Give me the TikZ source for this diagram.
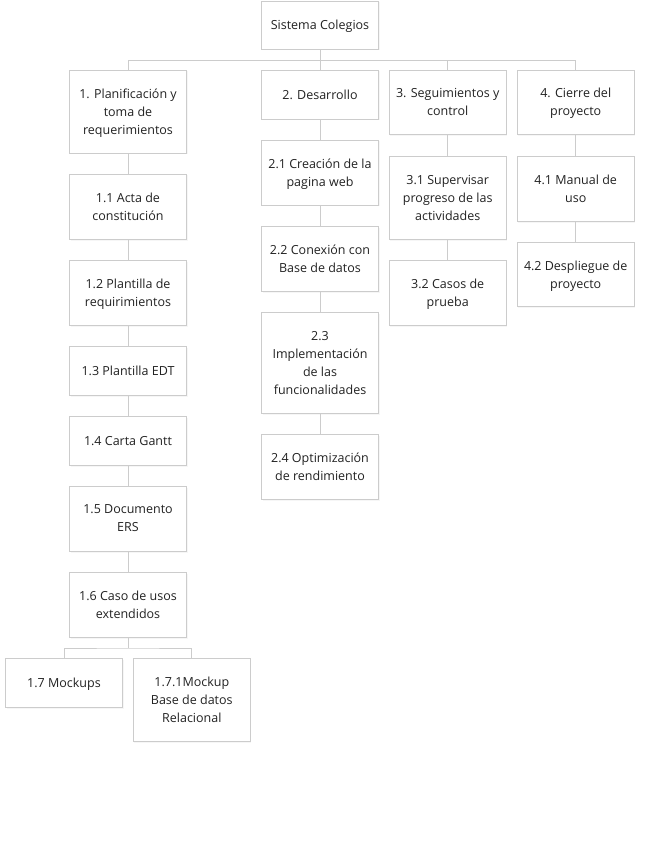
\documentclass[tikz,border=0pt]{standalone}
\usepackage{fontspec}
\setmainfont{Open Sans}
\usetikzlibrary{shadows}
\definecolor{boxline}{HTML}{CCCCCC}
\definecolor{boxtext}{HTML}{222222}
\tikzset{
	wbox/.style={draw=boxline, line width=0.8pt, fill=white, text=boxtext, align=center,
		minimum width=117pt, inner sep=2pt, text depth=0pt,
		font=\fontsize{12.5}{18}\selectfont,
		drop shadow={opacity=0.07, shadow xshift=1pt, shadow yshift=-1.5pt}},
	mbox/.style={wbox, text depth=-1pt},
	link/.style={draw=boxline, line width=0.8pt}
}
\begin{document}
\begin{tikzpicture}[x=1pt,y=-1pt]
\useasboundingbox (0,0) rectangle (645,842);

\node[wbox, minimum height=48pt] (root) at (320,25) {Sistema Colegios};

\foreach \n/\y/\h/\s/\txt in {p1/111.5/83/mbox/{1. Planificación y\\toma de\\requerimientos},
	p11/206.5/65/mbox/{1.1 Acta de\\constitución},
	p12/293/65/mbox/{1.2 Plantilla de\\requirimientos},
	p13/371/49/wbox/{1.3 Plantilla EDT},
	p14/441/49/wbox/{1.4 Carta Gantt},
	p15/518.5/65/mbox/{1.5 Documento\\ERS},
	p16/604.5/65/mbox/{1.6 Caso de usos\\extendidos}}
{
	\node[\s, minimum height=\h pt] (\n) at (128,\y) {\txt};
}

\foreach \n/\y/\h/\s/\txt in {d2/94.5/49/wbox/{2. Desarrollo},
	d21/172.5/65/mbox/{2.1 Creación de la\\pagina web},
	d22/258.5/65/mbox/{2.2 Conexión con\\Base de datos},
	d23/362.75/101/mbox/{2.3\\Implementación\\de las\\funcionalidades},
	d24/466.75/65/mbox/{2.4 Optimización\\de rendimiento}}
{
	\node[\s, minimum height=\h pt] (\n) at (320,\y) {\txt};
}

\foreach \n/\y/\h/\txt in {s3/102.25/64/{3. Seguimientos y\\control},
	s31/197.5/83/{3.1 Supervisar\\progreso de las\\actividades},
	s32/292.5/65/{3.2 Casos de\\prueba}}
{
	\node[mbox, minimum height=\h pt] (\n) at (447.7,\y) {\txt};
}

\foreach \n/\y/\h/\txt in {c4/102.25/64/{4. Cierre del\\proyecto},
	c41/189/65/{4.1 Manual de\\uso},
	c42/274.7/64/{4.2 Despliegue de\\proyecto}}
{
	\node[mbox, minimum height=\h pt] (\n) at (575.7,\y) {\txt};
}

\node[wbox, minimum height=49pt] (p17) at (64,682.5) {1.7 Mockups};
\node[mbox, minimum height=83pt] (p171) at (191.8,699.5) {1.7.1Mockup\\Base de datos\\Relacional};

% buses
\coordinate (bus) at (320,60.5);
\coordinate (bus2) at (128,648);
\draw[link] (root.south) -- (d2.north);
\draw[link] (p1.north) |- (bus) -| (c4.north);
\draw[link] (s3.north) -- (s3.north |- bus);
\draw[link] (p16.south) -- (bus2);
\draw[link] (p17.north) |- (bus2) -| (p171.north);

\foreach \a/\b in {p1/p11,p11/p12,p12/p13,p13/p14,p14/p15,p15/p16,
	d2/d21,d21/d22,d22/d23,d23/d24,s3/s31,s31/s32,c4/c41,c41/c42}
{
	\draw[link] (\a) -- (\b);
}

\end{tikzpicture}
\end{document}
